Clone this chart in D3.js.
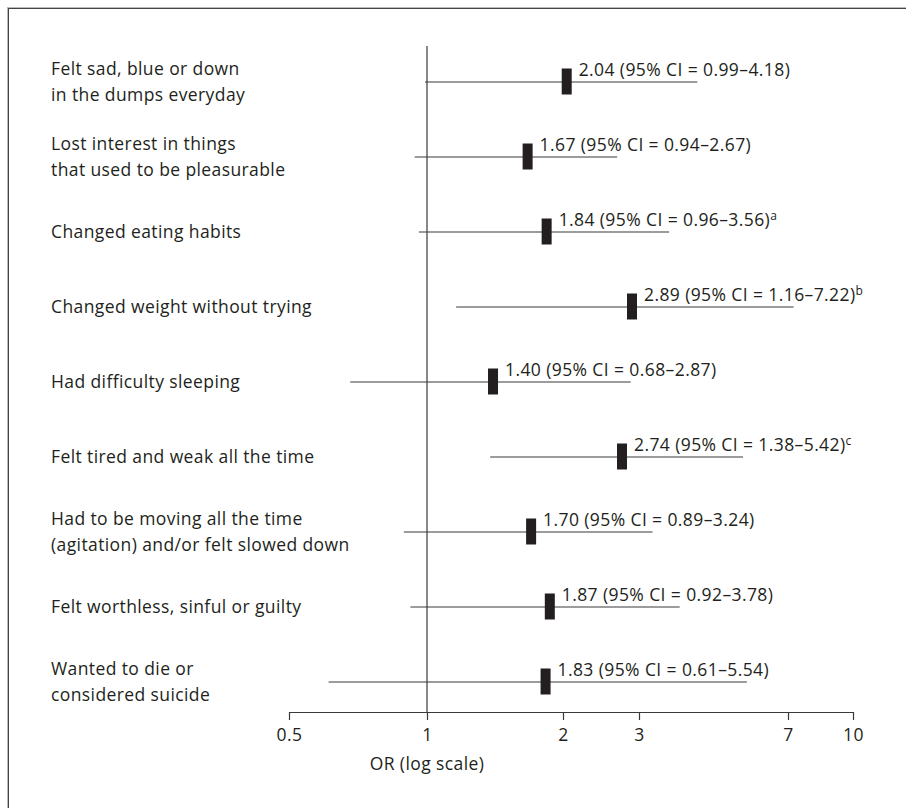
<!DOCTYPE html>
<html>
<head>
<meta charset="utf-8">
<script src="https://cdn.jsdelivr.net/npm/d3@7"></script>
<style>
  html, body { margin: 0; padding: 0; background: #fff; }
  svg { display: block; }
  text { font-family: "Open Sans", "Noto Sans", sans-serif; fill: #231f20; }
</style>
</head>
<body>
<svg id="chart" width="906" height="808"></svg>
<script>
// ---- data ----
const categories = [
  "Felt sad, blue or down\nin the dumps everyday",
  "Lost interest in things\nthat used to be pleasurable",
  "Changed eating habits",
  "Changed weight without trying",
  "Had difficulty sleeping",
  "Felt tired and weak all the time",
  "Had to be moving all the time\n(agitation) and/or felt slowed down",
  "Felt worthless, sinful or guilty",
  "Wanted to die or\nconsidered suicide"
];
const orValues = [2.04, 1.67, 1.84, 2.89, 1.40, 2.74, 1.70, 1.87, 1.83];
const ciLow    = [0.99, 0.94, 0.96, 1.16, 0.68, 1.38, 0.89, 0.92, 0.61];
const ciHigh   = [4.18, 2.67, 3.56, 7.22, 2.87, 5.42, 3.24, 3.78, 5.54];
const notes    = ["", "", "a", "b", "", "c", "", "", ""];
const tickValues = [0.5, 1, 2, 3, 7, 10];
const tickLabels = ["0.5", "1", "2", "3", "7", "10"];
const axisTitle = "OR (log scale)";

// ---- layout ----
const svg = d3.select("#chart");
const ink = "#231f20";
const axisY = 712;
const fs = "17.5px";
const ls = "0.4px";

// frame
svg.append("rect").attr("x", 7.5).attr("y", 7.5).attr("width", 910).attr("height", 820)
  .attr("fill", "none").attr("stroke", "#bbb").attr("stroke-width", 1);
svg.append("rect").attr("x", 8.5).attr("y", 8.5).attr("width", 910).attr("height", 820)
  .attr("fill", "none").attr("stroke", "#444").attr("stroke-width", 1);

// piecewise log scale matching the drawn axis
const x = d3.scaleLog()
  .domain(tickValues)
  .range([289, 427, 563, 639, 788, 853]);

const y = d3.scaleBand()
  .domain(categories)
  .range([44.5, 719.5])
  .padding(0);
const yc = c => y(c) + y.bandwidth() / 2;

// x axis
const axis = d3.axisBottom(x)
  .tickValues(tickValues)
  .tickFormat((d, i) => tickLabels[i])
  .tickSize(8)
  .tickSizeOuter(0)
  .tickPadding(9);
const gAxis = svg.append("g").attr("transform", `translate(0,${axisY})`).call(axis);
gAxis.select(".domain").attr("stroke", "#3a3a3a").attr("stroke-width", 1.2);
gAxis.selectAll(".tick line").attr("stroke", "#3a3a3a").attr("stroke-width", 1.2);
gAxis.selectAll(".tick text").attr("fill", ink).style("font-size", fs)
  .style("letter-spacing", ls)
  .style("font-family", '"Open Sans", sans-serif');

svg.append("text").attr("x", x(1)).attr("y", 770).attr("text-anchor", "middle")
  .style("font-size", fs).style("letter-spacing", ls).text(axisTitle);

// reference line at OR = 1
svg.append("line").attr("x1", x(1)).attr("x2", x(1)).attr("y1", 46).attr("y2", axisY)
  .attr("stroke", "#3a3a3a").attr("stroke-width", 1.2);

// rows
const rows = categories.map((c, i) => ({
  cat: c, or: orValues[i], lo: ciLow[i], hi: ciHigh[i], note: notes[i]
}));

const g = svg.append("g");

// CI lines
g.selectAll("line.ci").data(rows).join("line").attr("class", "ci")
  .attr("x1", d => x(d.lo)).attr("x2", d => x(d.hi))
  .attr("y1", d => yc(d.cat)).attr("y2", d => yc(d.cat))
  .attr("stroke", "#3a3a3a").attr("stroke-width", 1.2);

// markers
g.selectAll("rect.pt").data(rows).join("rect").attr("class", "pt")
  .attr("x", d => x(d.or) - 5).attr("y", d => yc(d.cat) - 13.5)
  .attr("width", 10).attr("height", 26).attr("fill", ink);

// annotations
const ann = g.selectAll("text.ann").data(rows).join("text").attr("class", "ann")
  .attr("x", d => x(d.or) + 12).attr("y", d => yc(d.cat) - 6)
  .style("font-size", fs).style("letter-spacing", ls);
ann.append("tspan").text(d => `${d.or.toFixed(2)} (95% CI = ${d.lo.toFixed(2)}\u2013${d.hi.toFixed(2)})`);
ann.filter(d => d.note).append("tspan")
  .attr("dy", -6).style("font-size", "12px").text(d => d.note);

// category labels
const lab = g.selectAll("text.lab").data(rows).join("text").attr("class", "lab")
  .attr("x", 51).style("font-size", fs).style("letter-spacing", ls);
lab.each(function(d) {
  const lines = d.cat.split("\n");
  const n = lines.length;
  const t = d3.select(this);
  lines.forEach((ln, k) => {
    t.append("tspan").attr("x", 51)
      .attr("y", yc(d.cat) + (k - (n - 1) / 2) * 26 + 6)
      .text(ln);
  });
});
</script>
</body>
</html>
